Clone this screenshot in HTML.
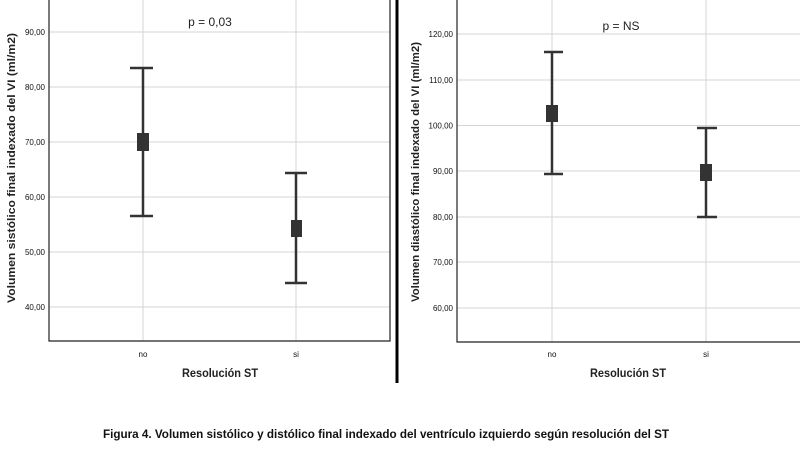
<!DOCTYPE html>
<html><head><meta charset="utf-8"><style>body{margin:0;background:#fff}svg{display:block}</style></head><body>
<svg width="800" height="466" xmlns="http://www.w3.org/2000/svg" font-family="Liberation Sans, sans-serif">
<rect width="800" height="466" fill="#fff"/>
<g stroke="#d4d4d4" stroke-width="1">
<line x1="49" x2="390" y1="32" y2="32"/><line x1="49" x2="390" y1="87" y2="87"/><line x1="49" x2="390" y1="142" y2="142"/><line x1="49" x2="390" y1="197" y2="197"/><line x1="49" x2="390" y1="252" y2="252"/><line x1="49" x2="390" y1="307" y2="307"/>
<line x1="143" x2="143" y1="0" y2="341"/><line x1="296" x2="296" y1="0" y2="341"/>
<line x1="457" x2="800" y1="34" y2="34"/><line x1="457" x2="800" y1="80" y2="80"/><line x1="457" x2="800" y1="125.5" y2="125.5"/><line x1="457" x2="800" y1="171" y2="171"/><line x1="457" x2="800" y1="217" y2="217"/><line x1="457" x2="800" y1="262" y2="262"/><line x1="457" x2="800" y1="308" y2="308"/>
<line x1="552" x2="552" y1="0" y2="342"/><line x1="706" x2="706" y1="0" y2="342"/>
</g>
<g stroke="#222" fill="none" stroke-width="1.2">
<path d="M49 0V341H390V0"/><path d="M457 0V342H800"/>
</g>
<line x1="397" x2="397" y1="0" y2="383" stroke="#000" stroke-width="3"/>
<g stroke="#333" stroke-width="2.5" fill="none">
<path d="M130 68H153M143 68V216M130 216H153"/>
<path d="M285 173H307M296 173V283M285 283H307"/>
<path d="M544 52H563M552 52V174M544 174H563"/>
<path d="M697 128H717M706 128V217M697 217H717"/>
</g>
<g fill="#333">
<rect x="137" y="133" width="12" height="18"/><rect x="291" y="220" width="11" height="17"/>
<rect x="546" y="105" width="12" height="17"/><rect x="700" y="164" width="12" height="17"/>
</g>
<g font-size="8" text-anchor="end" fill="#111">
<text x="45" y="35">90,00</text><text x="45" y="90">80,00</text><text x="45" y="145">70,00</text><text x="45" y="200">60,00</text><text x="45" y="255">50,00</text><text x="45" y="310">40,00</text>
<text x="453" y="37">120,00</text><text x="453" y="83">110,00</text><text x="453" y="128.5">100,00</text><text x="453" y="174">90,00</text><text x="453" y="220">80,00</text><text x="453" y="265">70,00</text><text x="453" y="311">60,00</text>
</g>
<g font-size="8" text-anchor="middle" fill="#111">
<text x="143" y="357">no</text><text x="296" y="357">si</text><text x="552" y="357">no</text><text x="706" y="357">si</text>
</g>
<g font-size="12" font-weight="bold" fill="#222">
<text x="182" y="377" textLength="76" lengthAdjust="spacingAndGlyphs">Resolución ST</text><text x="590" y="377" textLength="76" lengthAdjust="spacingAndGlyphs">Resolución ST</text>
</g>
<g font-size="11" font-weight="bold" fill="#222">
<text transform="translate(15,303) rotate(-90)" textLength="270" lengthAdjust="spacingAndGlyphs">Volumen sistólico final indexado del VI (ml/m2)</text>
<text transform="translate(419,302) rotate(-90)" textLength="260" lengthAdjust="spacingAndGlyphs">Volumen diastólico final indexado del VI (ml/m2)</text>
</g>
<g font-size="12" text-anchor="middle" fill="#222">
<text x="210" y="26">p = 0,03</text><text x="621" y="30">p = NS</text>
</g>
<text x="103" y="438" font-size="12" font-weight="bold" fill="#111" textLength="566" lengthAdjust="spacingAndGlyphs">Figura 4. Volumen sistólico y distólico final indexado del ventrículo izquierdo según resolución del ST</text>
</svg>
</body></html>
